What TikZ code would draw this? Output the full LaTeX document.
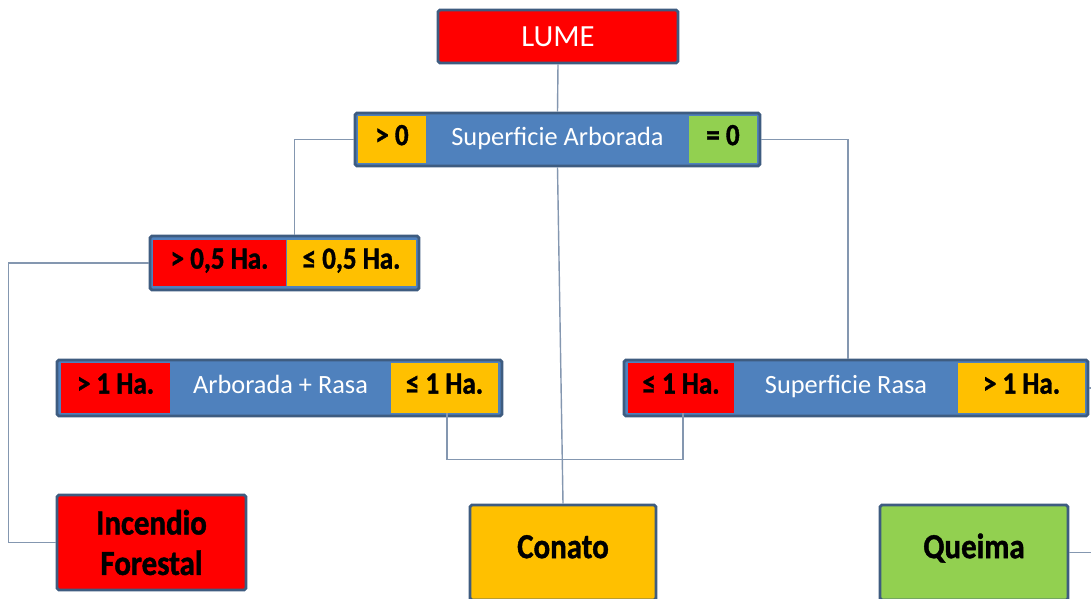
\documentclass[tikz,border=0pt]{standalone}
\usepackage{fontspec}
\setmainfont{Carlito}
\newfontfamily\tagfont[FakeStretch=0.88,FakeBold=1.2]{Carlito Bold}
\usepackage{tikz}
\definecolor{lumered}{HTML}{FF0000}
\definecolor{lumeyellow}{HTML}{FFC000}
\definecolor{lumeblue}{HTML}{4F81BD}
\definecolor{lumegreen}{HTML}{92D050}
\definecolor{lumeedge}{HTML}{3E5C80}
\definecolor{lumeline}{HTML}{8497B0}

\begin{document}
\begin{tikzpicture}[x=0.02cm,y=-0.02cm]
	\tikzstyle{every node}+=[inner sep=0pt]
	\tikzstyle{bar}=[draw=lumeedge, line width=1.6pt, fill=lumeblue, rounded corners=1pt]
	\tikzstyle{cell}=[minimum height=0.94cm, text height=0.7em, text depth=0.06em]
	\tikzstyle{tag}=[cell, font=\tagfont\fontsize{17.5}{20}\selectfont]
	\tikzstyle{heading}=[cell, text=white, font=\fontsize{15}{18}\selectfont]
	\tikzstyle{result}=[bar, minimum height=1.9cm, align=center, font=\tagfont\fontsize{20}{23}\selectfont]
	\tikzstyle{link}=[draw=lumeline, line width=0.8pt]
	\useasboundingbox (0,0) rectangle (1091,598);

	% top
	\node [bar, fill=lumered, minimum width=4.8cm, minimum height=1.06cm, text=white, font=\fontsize{17.5}{20}\selectfont] (lume) at (558,36.5) {LUME};

	% superficie arborada
	\node [bar, minimum width=8.1cm, minimum height=1.06cm] (arbbar) at (557.5,139.5) {};
	\node [tag, fill=lumeyellow, minimum width=1.36cm] (gtzero) at (392,139.5) {> 0};
	\node [heading, minimum width=5.26cm] (arbtext) at (557.5,139.5) {Superficie Arborada};
	\node [tag, fill=lumegreen, minimum width=1.36cm] (eqzero) at (723,139.5) {= 0};

	% media hectarea
	\node [bar, minimum width=5.38cm, minimum height=1.08cm] (halfbar) at (284.5,263) {};
	\node [tag, fill=lumered, minimum width=2.66cm] (gthalf) at (219.5,263) {> 0,5 Ha.};
	\node [tag, fill=lumeyellow, minimum width=2.58cm] (lehalf) at (351.5,263) {≤ 0,5 Ha.};

	% arborada + rasa
	\node [bar, minimum width=8.9cm, minimum height=1.12cm] (mixbar) at (279.5,388) {};
	\node [tag, fill=lumered, minimum width=2.18cm, minimum height=1cm] (gtmix) at (115.5,388) {> 1 Ha.};
	\node [heading, minimum width=4.42cm] (mixtext) at (280.5,388) {Arborada + Rasa};
	\node [tag, fill=lumeyellow, minimum width=2.14cm, minimum height=1cm] (lemix) at (444.5,388) {≤ 1 Ha.};

	% superficie rasa
	\node [bar, minimum width=9.28cm, minimum height=1.12cm] (rasbar) at (856,388) {};
	\node [tag, fill=lumered, minimum width=2.12cm, minimum height=1cm] (leras) at (681,388) {≤ 1 Ha.};
	\node [heading, minimum width=4.48cm] (rastext) at (846,388) {Superficie Rasa};
	\node [tag, fill=lumeyellow, minimum width=2.54cm, minimum height=1cm] (gtras) at (1021.5,388) {> 1 Ha.};

	% results
	\node [result, fill=lumered, minimum width=3.78cm] (incendio) at (151.5,542.5) {Incendio\\Forestal};
	\node [result, fill=lumeyellow, minimum width=3.72cm, text height=0.7em, text depth=0.06em] (conato) at (563,552.5) {Conato};
	\node [result, fill=lumegreen, minimum width=3.76cm, text height=0.7em, text depth=0.06em] (queima) at (974,552.5) {Queima};

	% links
	\draw [link] (lume.south) -- (arbbar.north);
	\draw [link] (arbbar.west) -| ([xshift=0.2cm]halfbar.north);
	\draw [link] (arbbar.east) -| ([xshift=-0.16cm]rasbar.north);
	\draw [link] (arbbar.south) -- (conato.north);
	\draw [link] (halfbar.west) -- ++(-140,0) |- (incendio.west);
	\draw [link] ([xshift=0.05cm]lemix.south) -- ++(0,46) -| ([xshift=0.04cm]leras.south);
	\draw [link] (rasbar.east) -- ++(15,0) |- (queima.east);
\end{tikzpicture}
\end{document}
